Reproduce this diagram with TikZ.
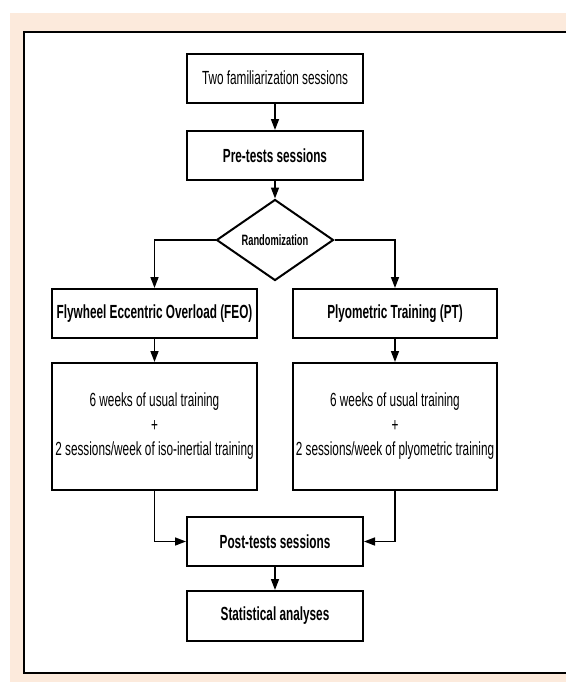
\documentclass[tikz,border=0pt]{standalone}
\usepackage{fontspec}
\setmainfont{Liberation Sans}[FakeStretch=0.62]
\usetikzlibrary{arrows.meta,positioning,shapes.geometric}
\definecolor{pagebg}{RGB}{252,234,220}

\begin{document}
\begin{tikzpicture}[x=0.5pt,y=-0.5pt,
    box/.style={draw,line width=1pt,fill=white,minimum width=88pt,minimum height=24.5pt,inner sep=0pt,align=center,font=\fontsize{9.5}{12.25}\selectfont},
    bbox/.style={box,font=\fontsize{9.5}{12.25}\selectfont\bfseries},
    link/.style={line width=0.75pt,-{Triangle[length=5.5pt,width=4pt]}}]
    % page and frame
    \fill[white] (0,0) rectangle (566,682);
    \fill[pagebg] (10,13) rectangle (566,682);
    \fill[white] (24,32) rectangle (566,673);
    \draw[line width=1pt] (566,32) -- (24,32) -- (24,673) -- (566,673);

    \node[box] (famil) at (275,78) {Two familiarization sessions};
    \node[bbox] (pretest) at (275,155.5) {Pre-tests sessions};
    \node[diamond,draw,line width=1pt,fill=white,aspect=1.44,minimum width=58.5pt,minimum height=40.5pt,inner sep=0pt,font=\fontsize{7.5}{9}\selectfont\bfseries] (rand) at (275,240) {Randomization};

    \node[bbox,minimum width=102.5pt] (feo) at (154.5,313.5) {Flywheel Eccentric Overload (FEO)};
    \node[bbox,minimum width=102pt] (plyo) at (395,313.5) {Plyometric Training (PT)};

    \node[box,minimum width=102.5pt,minimum height=63.5pt] (feotrain) at (154.5,426.5) {6 weeks of usual training\\+\\2 sessions/week of iso-inertial training};
    \node[box,minimum width=102pt,minimum height=63.5pt] (plyotrain) at (395,426.5) {6 weeks of usual training\\+\\2 sessions/week of plyometric training};

    \node[bbox] (posttest) at (275,541.5) {Post-tests sessions};
    \node[bbox,minimum height=25pt] (stats) at (275,616) {Statistical analyses};

    \draw[link] (famil) -- (pretest);
    \draw[link] (pretest) -- (rand);
    \draw[link] (rand.west) -| (feo.north);
    \draw[link] (rand.east) -| (plyo.north);
    \draw[link] (feo) -- (feotrain);
    \draw[link] (plyo) -- (plyotrain);
    \draw[link] (feotrain.south) |- (posttest.west);
    \draw[link] (plyotrain.south) |- (posttest.east);
    \draw[link] (posttest) -- (stats);
\end{tikzpicture}
\end{document}
